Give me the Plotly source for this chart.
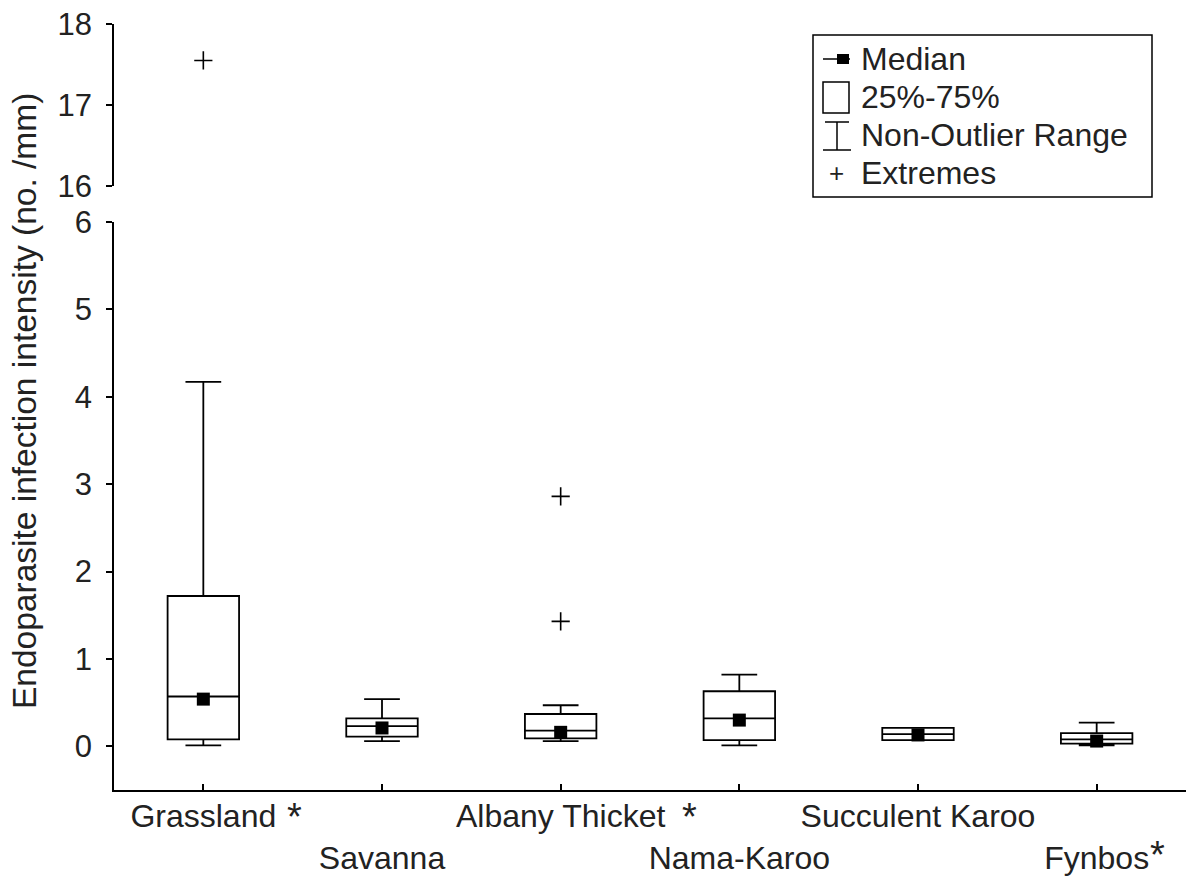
import plotly.graph_objects as go

# ---------------- data ----------------
categories = ["Grassland", "Savanna", "Albany Thicket", "Nama-Karoo", "Succulent Karoo", "Fynbos"]
starred = ["Grassland", "Albany Thicket", "Fynbos"]
q1 = [0.08, 0.11, 0.09, 0.07, 0.07, 0.03]
q3 = [1.72, 0.32, 0.37, 0.63, 0.21, 0.15]
center_line = [0.57, 0.23, 0.18, 0.32, 0.14, 0.08]
lower_whisker = [0.01, 0.06, 0.06, 0.01, 0.07, 0.01]
upper_whisker = [4.17, 0.54, 0.47, 0.82, 0.21, 0.27]
median_marker = [0.54, 0.21, 0.16, 0.30, 0.13, 0.06]
extreme_cats = ["Grassland", "Albany Thicket", "Albany Thicket"]
extreme_vals = [17.55, 2.86, 1.43]
lower_ticks = [0, 1, 2, 3, 4, 5, 6]
upper_ticks = [16, 17, 18]
legend_labels = ["Median", "25%-75%", "Non-Outlier Range", "Extremes"]
y_title = "Endoparasite infection intensity (no. /mm)"

FONT = "Liberation Sans, Arial, sans-serif"
TXT = "#222222"
W, H = 1190, 877
# plot area in page pixels: x 114..1186, y 24..790
L, T = 114, 24
R = W - 1186
B = H - 790
PW, PH = W - L - R, H - T - B


def fx(p):  # page pixel x -> paper
    return (p - L) / PW


def fy(p):  # page pixel y -> paper
    return (H - B - p) / PH


fig = go.Figure()

fig.add_trace(go.Box(
    x=categories, q1=q1, median=center_line, q3=q3,
    lowerfence=lower_whisker, upperfence=upper_whisker,
    boxpoints=False, width=0.4, whiskerwidth=0.5,
    line=dict(color="black", width=1.8), fillcolor="white",
    xaxis="x", yaxis="y", showlegend=False, hoverinfo="skip",
))

fig.add_trace(go.Scatter(
    x=categories, y=median_marker, mode="markers",
    marker=dict(symbol="square", size=13, color="black"),
    xaxis="x", yaxis="y", showlegend=False,
))

low_x = [c for c, v in zip(extreme_cats, extreme_vals) if v <= max(lower_ticks)]
low_y = [v for v in extreme_vals if v <= max(lower_ticks)]
up_x = [c for c, v in zip(extreme_cats, extreme_vals) if v > max(lower_ticks)]
up_y = [v for v in extreme_vals if v > max(lower_ticks)]
plus = dict(symbol="cross-thin", size=13, line=dict(color="black", width=1.6), color="black")
fig.add_trace(go.Scatter(x=low_x, y=low_y, mode="markers", marker=plus,
                         xaxis="x", yaxis="y", showlegend=False))
fig.add_trace(go.Scatter(x=up_x, y=up_y, mode="markers", marker=plus,
                         xaxis="x", yaxis="y2", showlegend=False))

ticktext = [c if i % 2 == 0 else "<br>" + c for i, c in enumerate(categories)]

low_top = fy(222)
up_bot = fy(186)

axis_common = dict(showgrid=False, zeroline=False, showline=True, linecolor="black",
                   linewidth=1.8, ticks="outside", ticklen=6, tickwidth=1.5, tickcolor="black",
                   ticklabeloverflow="allow",
                   tickfont=dict(family=FONT, size=31, color=TXT))

fig.update_layout(
    width=W, height=H,
    margin=dict(l=L, r=R, t=T, b=B, autoexpand=False),
    paper_bgcolor="white", plot_bgcolor="white",
    showlegend=False,
    xaxis=dict(type="category", categoryorder="array", categoryarray=categories,
               range=[-0.5, len(categories) - 0.5], tickmode="array",
               tickvals=categories, ticktext=ticktext, ticklabeloverflow="allow",
               ticklabelstandoff=-3,
               showgrid=False, zeroline=False, showline=True, linecolor="black", linewidth=1.8,
               ticks="inside", ticklen=6, tickwidth=1.5, tickcolor="black",
               tickfont=dict(family=FONT, size=32, color=TXT), tickangle=0,
               anchor="y", domain=[0, 1]),
    yaxis=dict(domain=[0, low_top], range=[-0.5, 6], tickvals=lower_ticks,
               anchor="x", ticklabelstandoff=8, **axis_common),
    yaxis2=dict(domain=[up_bot, 1], range=[16, 18], tickvals=upper_ticks,
                anchor="x", ticklabelstandoff=8, **axis_common),
)

# y-axis title
fig.add_annotation(text=y_title, xref="paper", yref="paper", x=fx(25), y=fy(401),
                   xanchor="center", yanchor="middle", textangle=-90, showarrow=False,
                   font=dict(family=FONT, size=33.5, color=TXT))

# asterisks next to labels
ast_shift = {"Grassland": 91, "Albany Thicket": 129, "Fynbos": 61}
for c in starred:
    i = categories.index(c)
    ypix = 817 if i % 2 == 0 else 855
    fig.add_annotation(text="*", x=c, xref="x", yref="paper", y=fy(ypix),
                       xshift=ast_shift[c], xanchor="center", yanchor="middle",
                       showarrow=False, font=dict(family=FONT, size=38, color=TXT))

# ---------------- legend (manual) ----------------
fig.add_shape(type="rect", xref="paper", yref="paper", x0=fx(813), x1=fx(1152),
              y0=fy(197), y1=fy(35), line=dict(color="black", width=1.5), fillcolor="white")
rows = [59, 97, 135, 173]
for lab, r in zip(legend_labels, rows):
    fig.add_annotation(text=lab, xref="paper", yref="paper", x=fx(859), y=fy(r),
                       xanchor="left", yanchor="middle", showarrow=False,
                       font=dict(family=FONT, size=32, color=TXT))
# median glyph
fig.add_shape(type="line", xref="paper", yref="paper", x0=fx(823), x1=fx(850),
              y0=fy(rows[0]), y1=fy(rows[0]), line=dict(color="black", width=1.5))
fig.add_shape(type="rect", xref="paper", yref="paper", x0=fx(837), x1=fx(849),
              y0=fy(rows[0] + 5), y1=fy(rows[0] - 5), line=dict(width=0), fillcolor="black")
# box glyph
fig.add_shape(type="rect", xref="paper", yref="paper", x0=fx(823), x1=fx(849),
              y0=fy(113), y1=fy(82), line=dict(color="black", width=1.5), fillcolor="white")
# whisker glyph
fig.add_shape(type="line", xref="paper", yref="paper", x0=fx(837), x1=fx(837),
              y0=fy(150), y1=fy(122), line=dict(color="black", width=1.5))
fig.add_shape(type="line", xref="paper", yref="paper", x0=fx(825), x1=fx(849),
              y0=fy(122), y1=fy(122), line=dict(color="black", width=1.5))
fig.add_shape(type="line", xref="paper", yref="paper", x0=fx(823), x1=fx(851),
              y0=fy(150), y1=fy(150), line=dict(color="black", width=1.5))
# extremes glyph
fig.add_annotation(text="+", xref="paper", yref="paper", x=fx(836), y=fy(rows[3]),
                   xanchor="center", yanchor="middle", showarrow=False,
                   font=dict(family=FONT, size=26, color=TXT))

fig.write_html("out.html", config={"displayModeBar": False},
               post_script="document.body.style.margin='0px';document.body.style.overflow='hidden';")
